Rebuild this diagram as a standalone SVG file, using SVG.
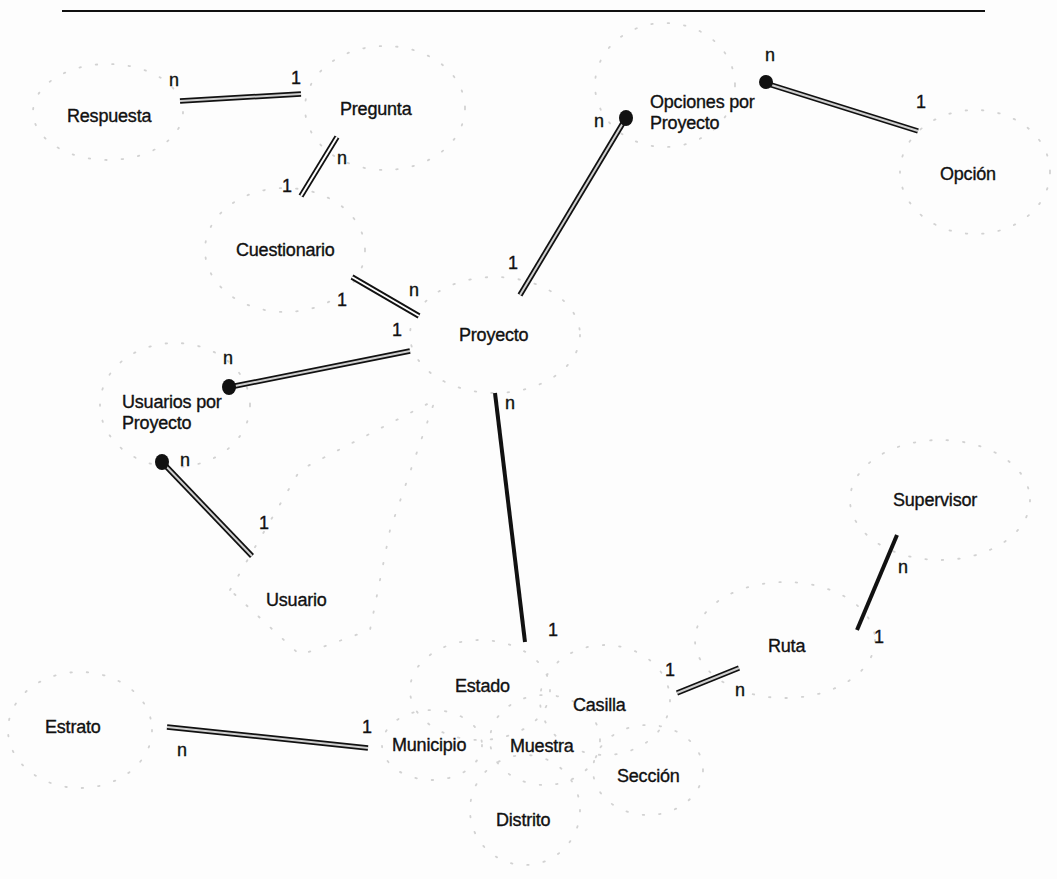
<svg xmlns="http://www.w3.org/2000/svg" width="1057" height="879" viewBox="0 0 1057 879">
<style>
text{font-family:"Liberation Sans",Arial,sans-serif;font-size:18px;fill:#111;stroke:#111;stroke-width:0.35;letter-spacing:-0.2px}
.lbl{font-size:18px;letter-spacing:0}
.shape{fill:none;stroke:#d2d2d2;stroke-width:1.8;stroke-dasharray:1.5 15;stroke-linecap:round}
.dbl{stroke:#111;stroke-width:5.5;stroke-linecap:butt}
.dblin{stroke:#cfcfcf;stroke-width:2;stroke-linecap:butt}
.solid{stroke:#111;stroke-width:4;stroke-linecap:butt}
.dot{fill:#111}
</style>
<rect width="1057" height="879" fill="#fdfdfd"/>
<line x1="62" y1="11" x2="985" y2="11" stroke="#111" stroke-width="2"/>

<g id="respuesta"><ellipse class="shape" cx="108" cy="112" rx="75" ry="48"/><text x="67" y="122">Respuesta</text></g>
<g id="pregunta"><ellipse class="shape" cx="385" cy="108" rx="80" ry="62"/><text x="340" y="115">Pregunta</text></g>
<g id="cuestionario"><ellipse class="shape" cx="285" cy="250" rx="80" ry="62"/><text x="236" y="256">Cuestionario</text></g>
<g id="proyecto"><ellipse class="shape" cx="495" cy="335" rx="85" ry="58"/><text x="459" y="341">Proyecto</text></g>
<g id="opciones-por-proyecto"><ellipse class="shape" cx="665" cy="85" rx="70" ry="62"/><text x="650" y="108">Opciones por</text><text x="650" y="129">Proyecto</text></g>
<g id="opcion"><ellipse class="shape" cx="975" cy="172" rx="75" ry="62"/><text x="940" y="180">Opción</text></g>
<g id="usuarios-por-proyecto"><ellipse class="shape" cx="175" cy="405" rx="75" ry="62"/><text x="122" y="408">Usuarios por</text><text x="122" y="429">Proyecto</text></g>
<g id="usuario"><path class="shape" d="M230 590 L300 470 L435 400 L390 530 L370 630 L300 655 Z"/><text x="266" y="606">Usuario</text></g>
<g id="estrato"><ellipse class="shape" cx="80" cy="730" rx="72" ry="58"/><text x="45" y="733">Estrato</text></g>
<g id="estado"><ellipse class="shape" cx="480" cy="690" rx="70" ry="50"/><text x="455" y="692">Estado</text></g>
<g id="municipio"><ellipse class="shape" cx="432" cy="745" rx="50" ry="35"/><text x="392" y="751">Municipio</text></g>
<g id="muestra"><ellipse class="shape" cx="545" cy="740" rx="55" ry="45"/><text x="510" y="752">Muestra</text></g>
<g id="casilla"><ellipse class="shape" cx="605" cy="700" rx="65" ry="55"/><text x="573" y="711">Casilla</text></g>
<g id="seccion"><ellipse class="shape" cx="648" cy="770" rx="55" ry="45"/><text x="617" y="782">Sección</text></g>
<g id="distrito"><ellipse class="shape" cx="525" cy="810" rx="55" ry="55"/><text x="496" y="826">Distrito</text></g>
<g id="ruta"><ellipse class="shape" cx="785" cy="640" rx="90" ry="58"/><text x="768" y="652">Ruta</text></g>
<g id="supervisor"><ellipse class="shape" cx="940" cy="500" rx="90" ry="60"/><text x="893" y="506">Supervisor</text></g>

<g id="connectors">
<line class="dbl" x1="180" y1="101" x2="301" y2="94"/><line class="dblin" x1="180" y1="101" x2="301" y2="94"/>
<line class="dbl" x1="337" y1="137" x2="301" y2="196"/><line stroke="#fdfdfd" stroke-width="2" x1="337" y1="137" x2="301" y2="196"/>
<line class="dbl" x1="352" y1="277" x2="419" y2="316"/><line stroke="#fdfdfd" stroke-width="2" x1="352" y1="277" x2="419" y2="316"/>
<line class="dbl" x1="520" y1="295" x2="626" y2="118"/><line class="dblin" x1="520" y1="295" x2="626" y2="118"/>
<ellipse class="dot" cx="626" cy="118" rx="7" ry="8"/>
<line class="dbl" x1="765" y1="83" x2="918" y2="131"/><line class="dblin" x1="765" y1="83" x2="918" y2="131"/>
<ellipse class="dot" cx="766" cy="82" rx="7" ry="7"/>
<line class="dbl" x1="230" y1="387" x2="410" y2="351"/><line class="dblin" stroke="#888" x1="230" y1="387" x2="410" y2="351"/>
<ellipse class="dot" cx="229" cy="387" rx="7" ry="8"/>
<line class="dbl" x1="162" y1="462" x2="252" y2="556"/><line class="dblin" x1="162" y1="462" x2="252" y2="556"/>
<ellipse class="dot" cx="162" cy="462" rx="7" ry="8"/>
<line class="solid" x1="495" y1="393" x2="525" y2="642"/>
<line class="dbl" x1="167" y1="727" x2="368" y2="748"/><line class="dblin" stroke="#999" x1="167" y1="727" x2="368" y2="748"/>
<line class="dbl" x1="677" y1="693" x2="739" y2="668"/><line class="dblin" stroke="#aaa" x1="677" y1="693" x2="739" y2="668"/>
<line class="solid" stroke-width="4.5" x1="857" y1="630" x2="897" y2="535"/>

<text class="lbl" x="169" y="86">n</text><text class="lbl" x="291" y="84">1</text>
<text class="lbl" x="337" y="164">n</text><text class="lbl" x="282" y="192">1</text>
<text class="lbl" x="337" y="306">1</text><text class="lbl" x="409" y="296">n</text><text class="lbl" x="392" y="336">1</text>
<text class="lbl" x="594" y="127">n</text><text class="lbl" x="508" y="269">1</text>
<text class="lbl" x="765" y="61">n</text><text class="lbl" x="916" y="108">1</text>
<text class="lbl" x="223" y="364">n</text>
<text class="lbl" x="180" y="466">n</text><text class="lbl" x="259" y="529">1</text>
<text class="lbl" x="505" y="409">n</text><text class="lbl" x="548" y="636">1</text>
<text class="lbl" x="177" y="756">n</text><text class="lbl" x="362" y="733">1</text>
<text class="lbl" x="665" y="676">1</text><text class="lbl" x="735" y="696">n</text>
<text class="lbl" x="898" y="573">n</text><text class="lbl" x="874" y="643">1</text>
</g>
</svg>
